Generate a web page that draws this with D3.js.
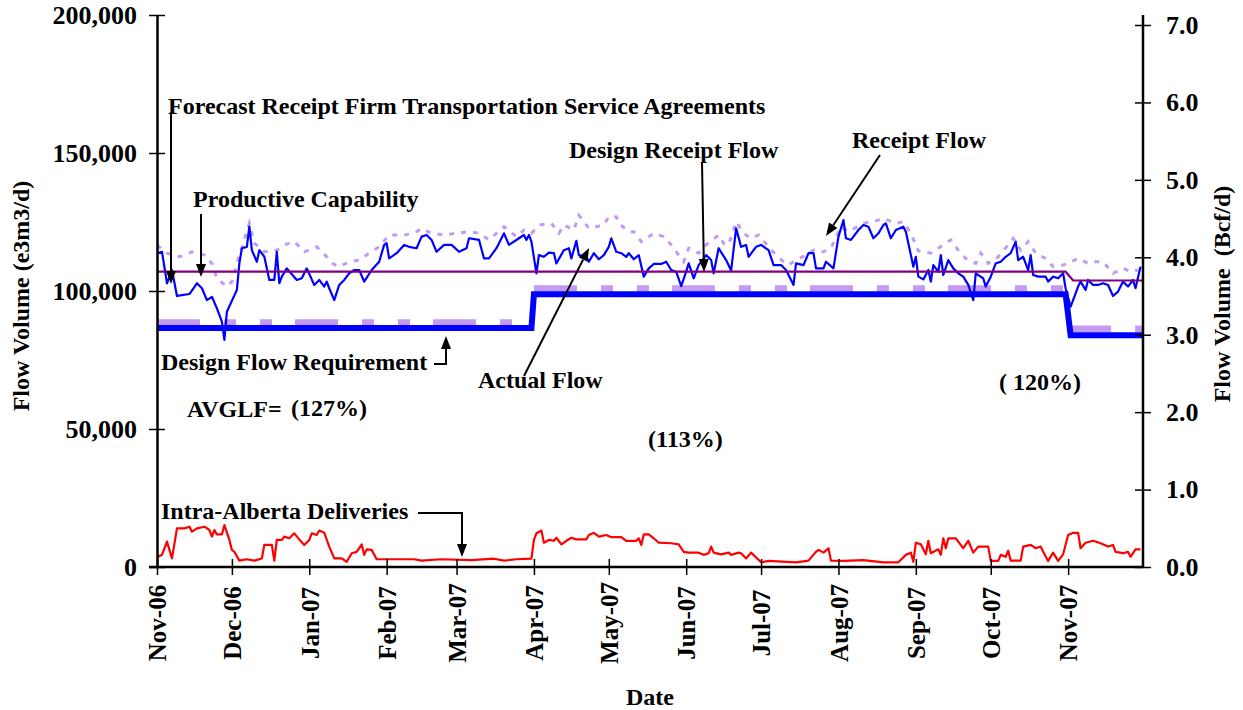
<!DOCTYPE html>
<html>
<head>
<meta charset="utf-8">
<script src="https://cdn.jsdelivr.net/npm/d3@7"></script>
<style>
  body { margin: 0; background: #fff; }
  svg text { font-family: "Liberation Serif", "Times New Roman", serif; font-weight: bold; fill: #000; }
</style>
</head>
<body>
<svg id="chart" width="1243" height="710"></svg>
<script>
// 期間 (x軸)
var xStart = "2006-11-01", xEnd = "2007-12-01";
var leftTicks = [0, 50000, 100000, 150000, 200000];
var rightTicks = [0, 1, 2, 3, 4, 5, 6, 7];

// Receipt Flow (e3m3/d) 青い細線
var receiptFlow = [
  ["2006-11-01",113700],["2006-11-03",114200],["2006-11-05",102800],["2006-11-07",107600],["2006-11-09",98200],
  ["2006-11-11",98500],["2006-11-14",98900],["2006-11-17",102800],["2006-11-19",101000],["2006-11-21",96700],
  ["2006-11-23",97900],["2006-11-25",93700],["2006-11-27",88900],["2006-11-28",82300],["2006-11-29",92500],
  ["2006-12-03",100400],["2006-12-04",110000],["2006-12-05",115500],["2006-12-07",116000],["2006-12-08",123300],
  ["2006-12-09",114800],["2006-12-11",110600],["2006-12-12",114800],["2006-12-14",112400],["2006-12-16",104000],
  ["2006-12-18",104000],["2006-12-19",114200],["2006-12-20",102800],["2006-12-21",105200],["2006-12-23",108200],
  ["2006-12-27",104000],["2006-12-29",104600],["2006-12-31",108200],["2007-01-03",102200],["2007-01-05",104000],
  ["2007-01-07",101600],["2007-01-08",103400],["2007-01-09",101000],["2007-01-11",96700],["2007-01-13",102200],
  ["2007-01-15",104000],["2007-01-17",106400],["2007-01-19",107600],["2007-01-21",107600],["2007-01-23",103400],
  ["2007-01-26",107600],["2007-01-29",110600],["2007-01-31",116700],["2007-02-01",117300],["2007-02-02",111800],
  ["2007-02-05",113700],["2007-02-08",116700],["2007-02-10",116000],["2007-02-13",115500],["2007-02-15",119700],
  ["2007-02-17",120300],["2007-02-19",118500],["2007-02-21",114200],["2007-02-24",116700],["2007-02-27",116700],
  ["2007-03-02",114200],["2007-03-05",115500],["2007-03-06",119100],["2007-03-10",118500],["2007-03-12",111800],
  ["2007-03-14",111800],["2007-03-17",115500],["2007-03-20",120900],["2007-03-22",116700],["2007-03-26",119100],
  ["2007-03-28",120300],["2007-03-29",118500],["2007-03-30",120300],["2007-03-31",117900],["2007-04-02",106400],
  ["2007-04-03",113000],["2007-04-05",112400],["2007-04-07",113900],["2007-04-09",113700],["2007-04-10",110000],
  ["2007-04-13",114800],["2007-04-15",115500],["2007-04-16",111800],["2007-04-18",118200],["2007-04-19",113000],
  ["2007-04-22",112400],["2007-04-23",110600],["2007-04-25",113700],["2007-04-27",111500],["2007-04-29",113000],
  ["2007-05-01",116000],["2007-05-02",119100],["2007-05-04",114200],["2007-05-06",113700],["2007-05-08",112400],
  ["2007-05-09",113700],["2007-05-11",111500],["2007-05-13",113000],["2007-05-15",105200],["2007-05-17",108200],
  ["2007-05-19",109800],["2007-05-22",109800],["2007-05-24",110600],["2007-05-26",107600],["2007-05-28",107000],
  ["2007-05-30",101800],["2007-06-01",107000],["2007-06-02",110000],["2007-06-04",104600],["2007-06-06",109400],
  ["2007-06-09",113000],["2007-06-11",111200],["2007-06-12",106400],["2007-06-14",115500],["2007-06-17",111200],
  ["2007-06-19",107400],["2007-06-21",122700],["2007-06-23",116000],["2007-06-25",116700],["2007-06-26",112400],
  ["2007-06-29",116000],["2007-07-01",116700],["2007-07-04",114800],["2007-07-06",109400],["2007-07-09",109400],
  ["2007-07-11",107600],["2007-07-14",102200],["2007-07-15",110000],["2007-07-18",109400],["2007-07-20",113700],
  ["2007-07-22",113700],["2007-07-23",108200],["2007-07-26",108200],["2007-07-27",110600],["2007-07-30",108200],
  ["2007-08-01",119700],["2007-08-03",125700],["2007-08-04",119100],["2007-08-06",118500],["2007-08-07",119700],
  ["2007-08-09",122100],["2007-08-11",123900],["2007-08-13",123300],["2007-08-15",119100],["2007-08-17",120900],
  ["2007-08-19",123900],["2007-08-20",124500],["2007-08-22",119100],["2007-08-24",122100],["2007-08-27",123300],
  ["2007-08-28",121500],["2007-08-29",117300],["2007-08-31",108800],["2007-09-01",112400],["2007-09-02",105200],
  ["2007-09-04",104200],["2007-09-06",107600],["2007-09-07",103400],["2007-09-08",109400],["2007-09-10",107000],
  ["2007-09-11",113000],["2007-09-12",105800],["2007-09-14",111200],["2007-09-16",108200],["2007-09-18",106400],
  ["2007-09-20",105200],["2007-09-22",102200],["2007-09-24",96700],["2007-09-25",106400],["2007-09-28",104600],
  ["2007-09-29",101600],["2007-10-01",105200],["2007-10-03",110000],["2007-10-05",110600],["2007-10-07",112400],
  ["2007-10-09",113700],["2007-10-11",117900],["2007-10-12",111200],["2007-10-14",112400],["2007-10-16",107600],
  ["2007-10-17",113000],["2007-10-18",105800],["2007-10-20",105200],["2007-10-23",105200],["2007-10-24",103400],
  ["2007-10-26",105200],["2007-10-28",104600],["2007-10-30",106400],["2007-10-31",101000],["2007-11-02",94300],
  ["2007-11-03",96700],["2007-11-05",101600],["2007-11-06",103400],["2007-11-08",100400],["2007-11-09",104000],
  ["2007-11-11",102200],["2007-11-13",102200],["2007-11-15",102800],["2007-11-17",102200],["2007-11-19",98200],
  ["2007-11-21",99800],["2007-11-23",103400],["2007-11-25",101600],["2007-11-27",104000],["2007-11-28",101000],
  ["2007-11-30",108800]
];

// Design Receipt Flow 薄紫の点線
var designReceiptFlow = [
  ["2006-11-01",116700],["2006-11-05",113700],["2006-11-10",112400],["2006-11-15",114200],["2006-11-20",113000],
  ["2006-11-23",110000],["2006-11-25",104600],["2006-11-29",101600],["2006-12-01",103400],["2006-12-03",110000],
  ["2006-12-08",124500],["2006-12-10",117300],["2006-12-14",114200],["2006-12-19",114800],["2006-12-22",116700],
  ["2006-12-26",117900],["2006-12-30",114200],["2007-01-04",116000],["2007-01-08",112400],["2007-01-10",110000],
  ["2007-01-13",108800],["2007-01-17",110600],["2007-01-21",111200],["2007-01-25",113700],["2007-01-29",116000],
  ["2007-02-02",120300],["2007-02-08",120300],["2007-02-12",120900],["2007-02-15",122700],["2007-02-19",120900],
  ["2007-02-24",120300],["2007-03-01",120900],["2007-03-06",121500],["2007-03-10",120900],["2007-03-14",118500],
  ["2007-03-20",123300],["2007-03-25",119700],["2007-03-28",122100],["2007-03-31",120900],["2007-04-03",123900],
  ["2007-04-08",124500],["2007-04-11",120900],["2007-04-13",123900],["2007-04-17",122100],["2007-04-19",127500],
  ["2007-04-23",122700],["2007-04-29",123900],["2007-05-01",126900],["2007-05-04",126900],["2007-05-05",124500],
  ["2007-05-09",121500],["2007-05-11",121500],["2007-05-14",117900],["2007-05-19",120900],["2007-05-23",119700],
  ["2007-05-26",116700],["2007-05-29",113000],["2007-05-31",110600],["2007-06-02",115500],["2007-06-06",113700],
  ["2007-06-09",116700],["2007-06-14",120300],["2007-06-16",117300],["2007-06-18",116700],["2007-06-21",125100],
  ["2007-06-24",120900],["2007-06-27",119100],["2007-06-30",120300],["2007-07-04",116000],["2007-07-07",113000],
  ["2007-07-10",110600],["2007-07-12",109400],["2007-07-15",111200],["2007-07-19",113000],["2007-07-22",114800],
  ["2007-07-26",114200],["2007-07-29",115500],["2007-08-02",123300],["2007-08-05",121500],["2007-08-11",124500],
  ["2007-08-15",125100],["2007-08-19",126300],["2007-08-24",124500],["2007-08-27",125100],["2007-08-30",120900],
  ["2007-09-02",114500],["2007-09-07",113700],["2007-09-12",116700],["2007-09-15",118500],["2007-09-18",114800],
  ["2007-09-21",111800],["2007-09-25",110000],["2007-09-27",113700],["2007-09-30",110000],["2007-10-04",112400],
  ["2007-10-08",116700],["2007-10-10",119100],["2007-10-13",114800],["2007-10-16",117900],["2007-10-19",113700],
  ["2007-10-23",111800],["2007-10-26",108800],["2007-10-30",109400],["2007-11-02",110600],["2007-11-05",111800],
  ["2007-11-09",110000],["2007-11-12",110600],["2007-11-15",110600],["2007-11-19",106400],["2007-11-23",108200],
  ["2007-11-26",107000],["2007-11-29",107600]
];

// Intra-Alberta Deliveries 赤線
var intraAlberta = [
  ["2006-11-01",3500],["2006-11-03",4400],["2006-11-05",9200],["2006-11-07",3100],["2006-11-09",14000],
  ["2006-11-12",14000],["2006-11-14",14600],["2006-11-15",12800],["2006-11-17",14000],["2006-11-20",14600],
  ["2006-11-22",13400],["2006-11-23",11000],["2006-11-24",13400],["2006-11-25",11800],["2006-11-27",11800],
  ["2006-11-28",15200],["2006-11-30",9800],["2006-12-01",6200],["2006-12-02",5500],["2006-12-04",2300],
  ["2006-12-07",2800],["2006-12-10",2300],["2006-12-13",3100],["2006-12-14",8000],["2006-12-17",8000],
  ["2006-12-18",2300],["2006-12-19",9800],["2006-12-21",9800],["2006-12-22",11000],["2006-12-24",10400],
  ["2006-12-26",12200],["2006-12-28",10000],["2006-12-30",8000],["2007-01-01",9800],["2007-01-02",12200],
  ["2007-01-04",11600],["2007-01-05",13200],["2007-01-07",12400],["2007-01-09",7400],["2007-01-11",3100],
  ["2007-01-14",3100],["2007-01-16",1900],["2007-01-18",5000],["2007-01-20",5500],["2007-01-22",8200],
  ["2007-01-23",4400],["2007-01-24",6400],["2007-01-26",6200],["2007-01-28",2800],["2007-01-30",2800],
  ["2007-02-12",2800],["2007-02-15",2300],["2007-02-23",2800],["2007-03-07",2500],["2007-03-16",3000],
  ["2007-03-20",2300],["2007-03-25",2800],["2007-03-31",3000],["2007-04-01",9800],["2007-04-02",12200],
  ["2007-04-04",13200],["2007-04-05",8800],["2007-04-07",9800],["2007-04-09",9500],["2007-04-10",10600],
  ["2007-04-12",8200],["2007-04-14",9500],["2007-04-16",10600],["2007-04-18",10000],["2007-04-22",10000],
  ["2007-04-23",11600],["2007-04-25",12400],["2007-04-27",11000],["2007-04-30",11600],["2007-05-02",10800],
  ["2007-05-06",10800],["2007-05-08",9500],["2007-05-12",9500],["2007-05-13",10400],["2007-05-14",8000],
  ["2007-05-15",11800],["2007-05-17",11800],["2007-05-19",10400],["2007-05-21",8800],["2007-05-26",8600],
  ["2007-05-29",8200],["2007-05-31",5500],["2007-06-02",5200],["2007-06-06",5200],["2007-06-08",4400],
  ["2007-06-10",5000],["2007-06-11",7400],["2007-06-12",5200],["2007-06-15",4600],["2007-06-18",5200],
  ["2007-06-19",4400],["2007-06-22",5200],["2007-06-23",5000],["2007-06-25",3100],["2007-06-27",5200],
  ["2007-07-01",1700],["2007-07-04",2200],["2007-07-15",1700],["2007-07-20",2300],["2007-07-23",5500],
  ["2007-07-24",6200],["2007-07-26",5200],["2007-07-28",6800],["2007-07-29",2300],["2007-08-03",2200],
  ["2007-08-11",2500],["2007-08-19",1700],["2007-08-25",1700],["2007-08-28",4400],["2007-08-30",5200],
  ["2007-08-31",1900],["2007-09-01",8800],["2007-09-03",8200],["2007-09-05",4600],["2007-09-06",9500],
  ["2007-09-07",5000],["2007-09-10",6400],["2007-09-11",4400],["2007-09-12",10400],["2007-09-13",6800],
  ["2007-09-14",10400],["2007-09-17",10400],["2007-09-20",6800],["2007-09-22",9500],["2007-09-24",5200],
  ["2007-09-26",7400],["2007-09-30",7400],["2007-10-01",2200],["2007-10-04",2200],["2007-10-05",4400],
  ["2007-10-07",3700],["2007-10-08",5900],["2007-10-09",2300],["2007-10-13",2300],["2007-10-14",7400],
  ["2007-10-17",8000],["2007-10-19",6800],["2007-10-21",7400],["2007-10-22",5500],["2007-10-24",2200],
  ["2007-10-26",5200],["2007-10-28",2200],["2007-10-30",4600],["2007-11-01",11600],["2007-11-03",12400],
  ["2007-11-05",12400],["2007-11-06",6800],["2007-11-08",8800],["2007-11-11",9500],["2007-11-14",8600],
  ["2007-11-17",7400],["2007-11-19",8000],["2007-11-20",5500],["2007-11-23",5000],["2007-11-25",5500],
  ["2007-11-26",3700],["2007-11-28",6400],["2007-11-30",6400]
];

// Productive Capability 紫の線
var productiveCapability = [
  ["2006-11-01",107000],["2007-10-31",107000],["2007-11-03",103800],["2007-12-01",103800]
];

// 太い青のステップ
var actualFlowStep = [
  ["2006-11-01",86600],["2007-03-31",86600],["2007-04-01",98800],
  ["2007-10-31",98800],["2007-11-02",84000],["2007-12-01",84000]
];

// 太い薄紫の破線 (区間ごと)
var designReqStarts = ["2006-11-01","2007-04-01","2007-11-01"];
var designReqEnds   = ["2007-03-31","2007-10-31","2007-12-01"];
var designReqValues = [88500, 100800, 86200];

var svg = d3.select("#chart");
var parse = d3.timeParse("%Y-%m-%d");
var plotL = 157, plotR = 1143, plotT = 15, plotB = 567;

var x = d3.scaleTime().domain([parse(xStart), parse(xEnd)]).range([plotL, plotR]);
var y = d3.scaleLinear().domain([0, 200000]).range([plotB, plotT]);
var yBcf = d3.scaleLinear().domain([0, 7]).range([plotB, 25]);

var lavender = "#c39cf2";

var line = d3.line()
  .x(function(d) { return x(parse(d[0])); })
  .y(function(d) { return y(d[1]); });

// 線
svg.append("path").datum(designReceiptFlow)
  .attr("d", line).attr("fill", "none")
  .attr("stroke", lavender).attr("stroke-width", 3)
  .attr("stroke-dasharray", "5,7");

designReqStarts.forEach(function(s, i) {
  svg.append("path")
    .datum([[s, designReqValues[i]], [designReqEnds[i], designReqValues[i]]])
    .attr("d", line).attr("fill", "none")
    .attr("stroke", lavender).attr("stroke-width", 7)
    .attr("stroke-dasharray", "43,24,12,24,12,23");
});

svg.append("path").datum(actualFlowStep)
  .attr("d", line).attr("fill", "none")
  .attr("stroke", "#0000ff").attr("stroke-width", 6);

svg.append("path").datum(receiptFlow)
  .attr("d", line).attr("fill", "none")
  .attr("stroke", "#0000ff").attr("stroke-width", 2.2)
  .attr("stroke-linejoin", "round");

svg.append("path").datum(productiveCapability)
  .attr("d", line).attr("fill", "none")
  .attr("stroke", "#800080").attr("stroke-width", 2.2);

svg.append("path").datum(intraAlberta)
  .attr("d", line).attr("fill", "none")
  .attr("stroke", "#ff0000").attr("stroke-width", 2.2)
  .attr("stroke-linejoin", "round");

// 軸
var gx = svg.append("g")
  .attr("transform", "translate(0," + plotB + ")")
  .call(d3.axisBottom(x)
    .tickValues(d3.timeMonth.range(parse(xStart), parse(xEnd)))
    .tickFormat(d3.timeFormat("%b-%y"))
    .tickSizeInner(8).tickSizeOuter(0));
gx.attr("font-family", null).attr("font-size", null);
gx.select(".domain").attr("stroke-width", 2.5).attr("d", "M" + (plotL - 8) + ",0H" + plotR);
gx.selectAll(".tick line").attr("y1", -8).attr("stroke-width", 1.5);
gx.selectAll(".tick text")
  .attr("transform", "rotate(-90)")
  .attr("text-anchor", "middle")
  .attr("x", -56).attr("y", 0).attr("dy", "0.35em")
  .style("font-size", "25px");

var gy = svg.append("g")
  .attr("transform", "translate(" + plotL + ",0)")
  .call(d3.axisLeft(y).tickValues(leftTicks).tickFormat(d3.format(","))
    .tickSizeInner(8).tickSizeOuter(0).tickPadding(12));
gy.attr("font-family", null).attr("font-size", null);
gy.select(".domain").attr("stroke-width", 2.5);
gy.selectAll(".tick line").attr("x1", 8).attr("stroke-width", 1.5);
gy.selectAll(".tick text").style("font-size", "26px");

var gy2 = svg.append("g")
  .attr("transform", "translate(" + plotR + ",0)")
  .call(d3.axisRight(yBcf).tickValues(rightTicks).tickFormat(d3.format(".1f"))
    .tickSizeInner(8).tickSizeOuter(0).tickPadding(15));
gy2.attr("font-family", null).attr("font-size", null);
gy2.select(".domain").attr("stroke-width", 2.5).attr("d", "M0," + plotT + "V" + plotB);
gy2.selectAll(".tick line").attr("x1", -8).attr("stroke-width", 1.5);
gy2.selectAll(".tick text").style("font-size", "26px");

// 軸タイトル
svg.append("text")
  .attr("transform", "translate(21,296) rotate(-90)")
  .attr("text-anchor", "middle").attr("dy", "0.35em")
  .style("font-size", "24px")
  .text("Flow Volume (e3m3/d)");

svg.append("text")
  .attr("transform", "translate(1222,294) rotate(-90)")
  .attr("text-anchor", "middle").attr("dy", "0.35em")
  .style("font-size", "24px").style("white-space", "pre")
  .text("Flow Volume  (Bcf/d)");

svg.append("text")
  .attr("x", 650).attr("y", 705)
  .attr("text-anchor", "middle")
  .style("font-size", "24px")
  .text("Date");

// 注釈
var notes = [
  ["Forecast Receipt Firm Transportation Service Agreements", 168, 114],
  ["Design Receipt Flow", 569, 158],
  ["Receipt Flow", 852, 148],
  ["Productive Capability", 193, 207],
  ["Design Flow Requirement", 161, 370],
  ["Actual Flow", 478, 388],
  ["AVGLF=", 187, 417],
  ["(127%)", 291, 416],
  ["(113%)", 648, 447],
  ["( 120%)", 999, 390],
  ["Intra-Alberta Deliveries", 161, 519]
];
svg.selectAll("text.note").data(notes).enter().append("text")
  .attr("class", "note")
  .attr("x", function(d) { return d[1]; })
  .attr("y", function(d) { return d[2]; })
  .style("font-size", "24px").style("white-space", "pre")
  .text(function(d) { return d[0]; });

// 矢印
function arrow(pts) {
  var p = pts[pts.length - 1], q = pts[pts.length - 2];
  var a = Math.atan2(p[1] - q[1], p[0] - q[0]);
  var L = 13, w = 5;
  var b = [p[0] - L * Math.cos(a), p[1] - L * Math.sin(a)];
  var n = [-Math.sin(a), Math.cos(a)];
  var body = pts.slice(0, -1).concat([b]);
  svg.append("path").attr("d", d3.line()(body))
    .attr("fill", "none").attr("stroke", "#000").attr("stroke-width", 2);
  svg.append("path")
    .attr("d", "M" + p + "L" + [b[0] + w * n[0], b[1] + w * n[1]] + "L" + [b[0] - w * n[0], b[1] - w * n[1]] + "Z")
    .attr("fill", "#000");
}
arrow([[171, 112], [171, 284]]);
arrow([[201, 214], [201, 277]]);
arrow([[434, 364], [446, 364], [446, 336]]);
arrow([[524, 376], [589, 248]]);
arrow([[702, 162], [704, 272]]);
arrow([[880, 155], [826, 236]]);
arrow([[418, 513], [462, 513], [462, 557]]);
</script>
</body>
</html>
